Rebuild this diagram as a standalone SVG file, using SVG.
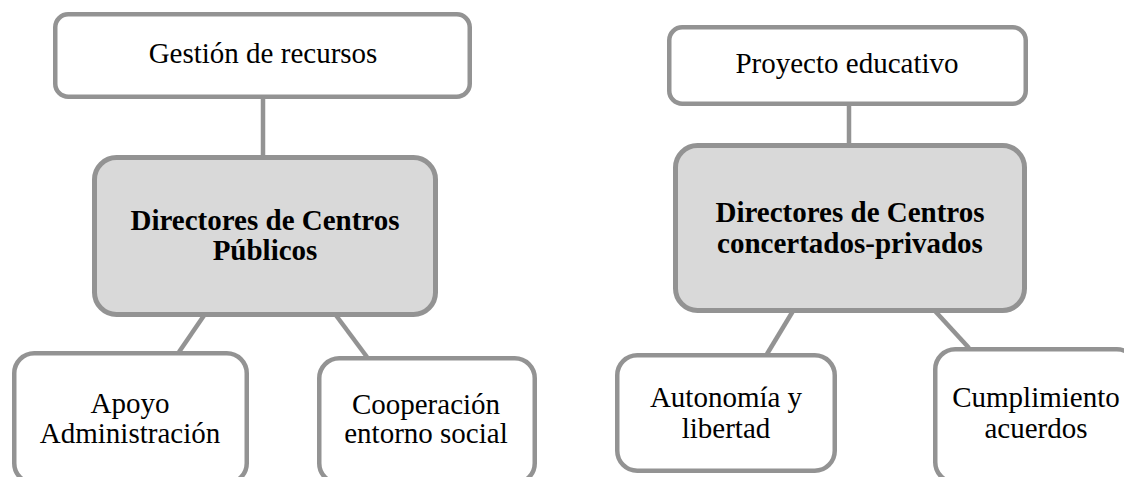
<svg xmlns="http://www.w3.org/2000/svg" width="1124" height="477" viewBox="0 0 1124 477">
<style>
.box{fill:#ffffff;stroke:#939393;stroke-width:4.5}
.main{fill:#d9d9d9;stroke:#939393;stroke-width:5}
.con{stroke:#939393;stroke-width:4.5;fill:none}
text{font-family:"Liberation Serif","Times New Roman",serif;font-size:29px;fill:#000;text-anchor:middle}
.b{font-weight:bold}
</style>
<rect width="1124" height="477" fill="#ffffff"/>
<g id="connectors">
<line class="con" x1="263" y1="99" x2="263" y2="156"/>
<line class="con" x1="205" y1="314" x2="179" y2="352"/>
<line class="con" x1="335" y1="314" x2="367" y2="357"/>
<line class="con" x1="849" y1="105" x2="849" y2="144"/>
<line class="con" x1="793" y1="311" x2="767" y2="354"/>
<line class="con" x1="935" y1="311" x2="969" y2="348"/>
</g>
<g id="gestion">
<rect class="box" x="55.25" y="14.25" width="414.5" height="82.5" rx="13"/>
<text x="263" y="63">Gestión de recursos</text>
</g>
<g id="publicos">
<rect class="main" x="94.5" y="157.5" width="341" height="157" rx="22"/>
<text class="b" x="265" y="230">Directores de Centros</text>
<text class="b" x="265" y="260">Públicos</text>
</g>
<g id="apoyo">
<rect class="box" x="14.25" y="353.25" width="232.5" height="130" rx="20"/>
<text x="130" y="413">Apoyo</text>
<text x="130" y="443">Administración</text>
</g>
<g id="cooperacion">
<rect class="box" x="319.25" y="358.25" width="215.5" height="125" rx="20"/>
<text x="426" y="414">Cooperación</text>
<text x="426" y="443">entorno social</text>
</g>
<g id="proyecto">
<rect class="box" x="669.25" y="27.25" width="356.5" height="76.5" rx="13"/>
<text x="847" y="73">Proyecto educativo</text>
</g>
<g id="concertados">
<rect class="main" x="675.5" y="145.5" width="349" height="165" rx="22"/>
<text class="b" x="850" y="222">Directores de Centros</text>
<text class="b" x="850" y="253">concertados-privados</text>
</g>
<g id="autonomia">
<rect class="box" x="617.25" y="355.25" width="217.5" height="115.5" rx="20"/>
<text x="726" y="407">Autonomía y</text>
<text x="726" y="438">libertad</text>
</g>
<g id="cumplimiento">
<rect class="box" x="935.25" y="349.25" width="201.5" height="133" rx="20"/>
<text x="1036" y="407">Cumplimiento</text>
<text x="1036" y="438">acuerdos</text>
</g>
</svg>
